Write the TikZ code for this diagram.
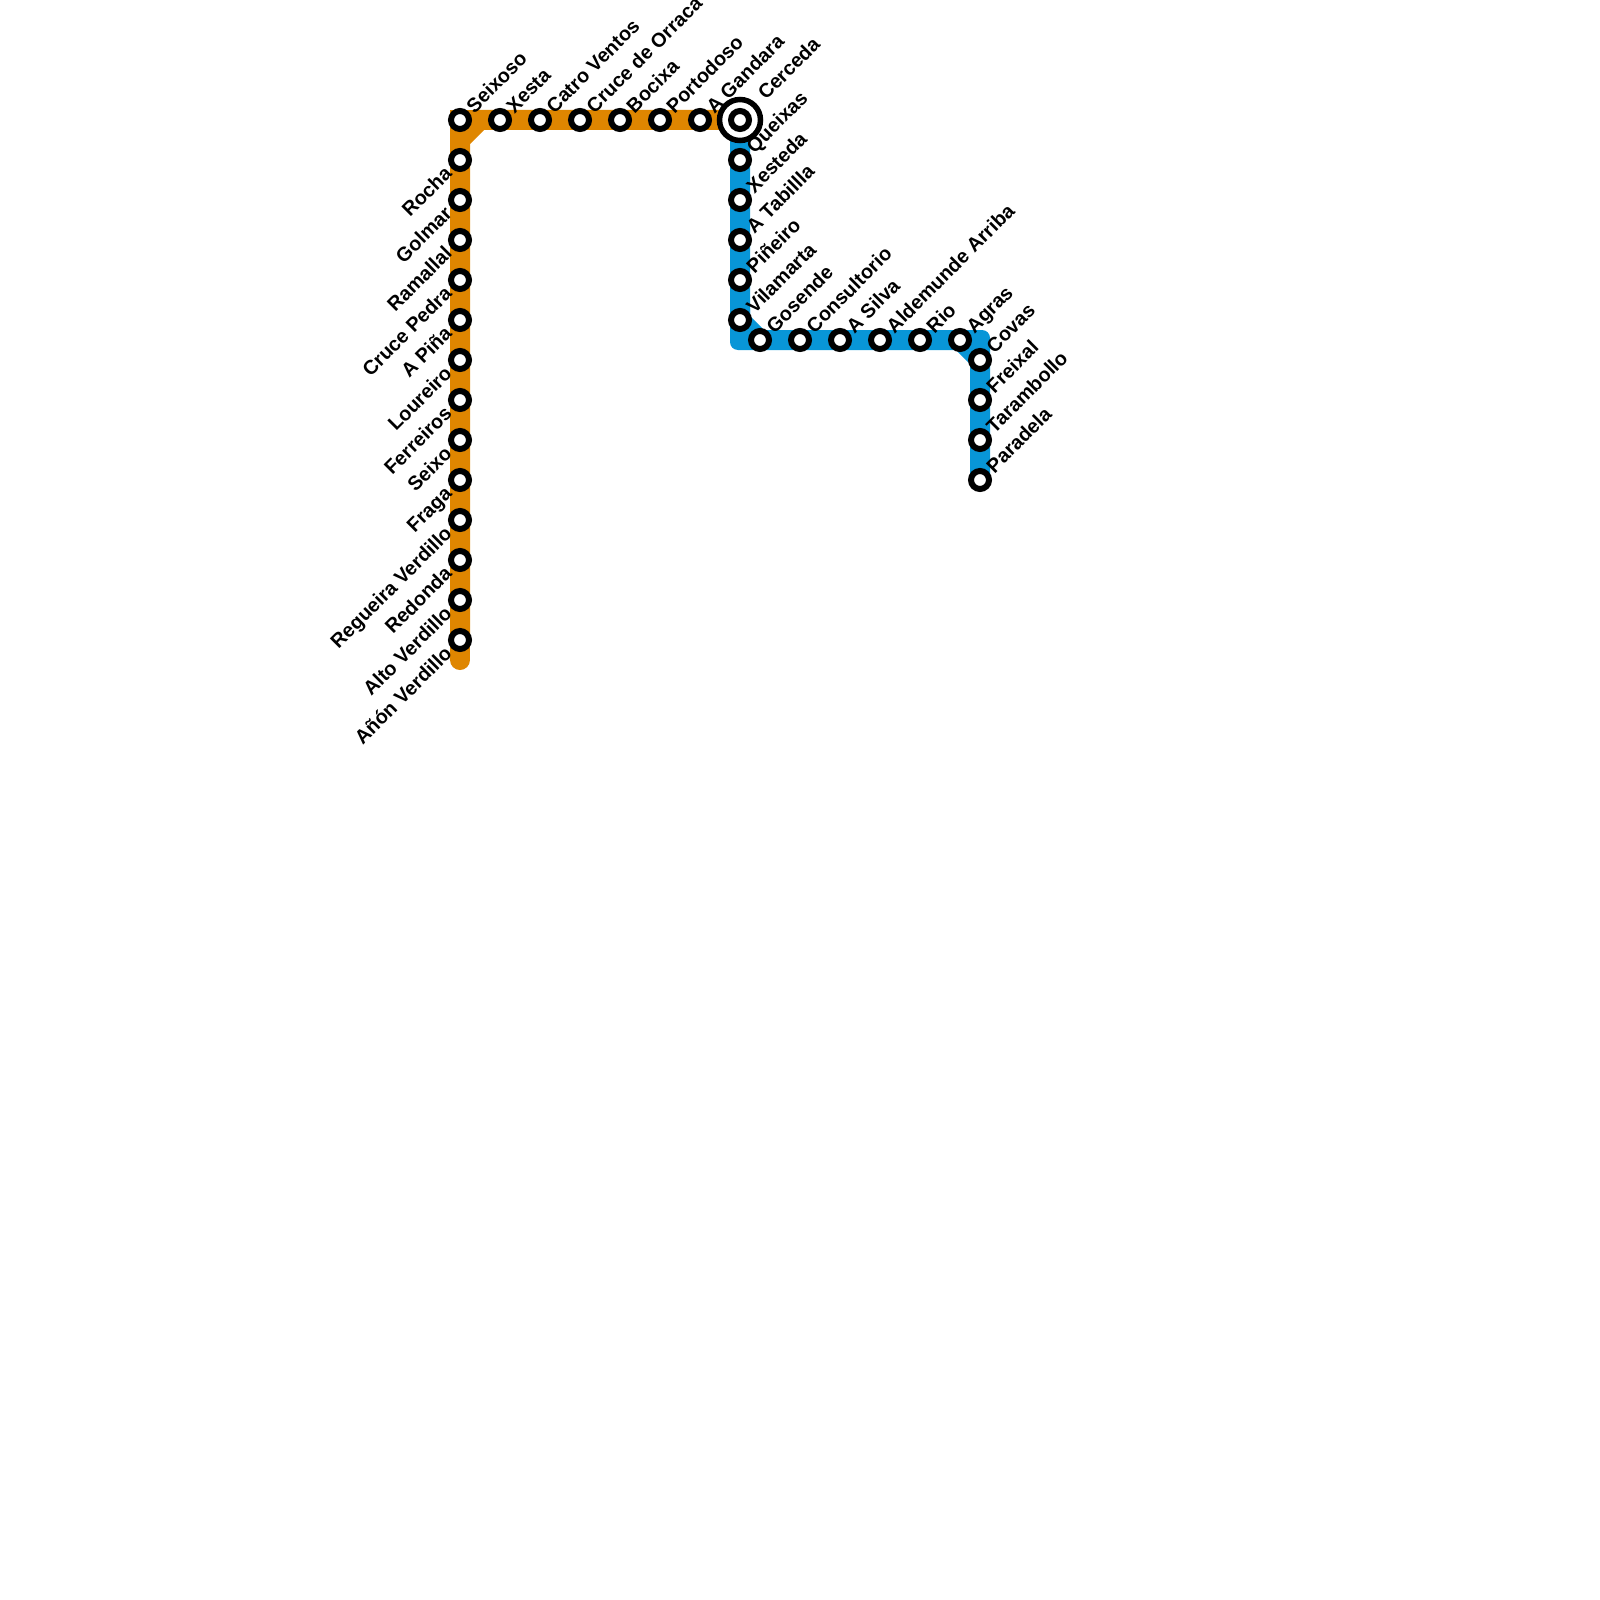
\documentclass[tikz,border=0pt]{standalone}
\usepackage{fontspec}
\setmainfont{Liberation Sans}
\definecolor{lineorange}{HTML}{DF8600}
\definecolor{lineblue}{HTML}{0896D7}
\tikzset{
  stop/.style={circle,draw=black,fill=white,line width=6pt,minimum size=18pt,inner sep=0pt,outer sep=0pt},
  hubring/.style={circle,draw=black,fill=white,line width=5.5pt,minimum size=41pt,inner sep=0pt,outer sep=0pt},
  orangeline/.style={draw=lineorange,line width=20pt},
  blueline/.style={draw=lineblue,line width=20pt},
  lab/.style={font=\fontsize{19.8}{20}\bfseries\selectfont,text=black,inner sep=0pt,outer sep=0pt,rotate=45},
  labR/.style={lab,anchor=base west},
  labL/.style={lab,anchor=base east}
}
\begin{document}
\begin{tikzpicture}[x=1pt,y=-1pt]
\useasboundingbox (0,0) rectangle (1600,1600);
% named positions
\foreach \n/\x/\y in {o1/460/120,o2/500/120,o3/540/120,o4/580/120,o5/620/120,o6/660/120,o7/700/120,
  h/740/120,b1/740/160,b2/740/200,b3/740/240,b4/740/280,b5/740/320,
  b6/760/340,b7/800/340,b8/840/340,b9/880/340,b10/920/340,b11/960/340,
  b12/980/360,b13/980/400,b14/980/440,b15/980/480,
  l1/460/160,l2/460/200,l3/460/240,l4/460/280,l5/460/320,l6/460/360,l7/460/400,l8/460/440,
  l9/460/480,l10/460/520,l11/460/560,l12/460/600,l13/460/640}
  {\coordinate (p\n) at (\x,\y);}
\coordinate (oend) at (460,660);
\coordinate (obend) at (460,140);
\coordinate (oc) at (480,120);
% lines
\fill[lineorange] (450,110) rectangle (480,130);
\fill[lineorange] (450,110) rectangle (470,150);
\fill[lineblue,rounded corners=8pt] (730,300) -- (730,350) -- (770,350) -- (770,330) -- (750,330) -- (750,300) -- cycle;
\fill[lineblue,rounded corners=8pt] (950,330) -- (990,330) -- (990,370) -- (970,370) -- (970,350) -- (950,350) -- cycle;
\path[blueline,line join=miter] (ph) -- (pb5) -- (pb6) -- (pb11) -- (pb12) -- (pb15);
\path[orangeline,line cap=round] (pl13) -- (oend);
\path[orangeline,line join=miter] (pl13) -- (obend) -- (oc) -- (ph);
% stations
\foreach \n in {o1,o2,o3,o4,o5,o6,o7,b1,b2,b3,b4,b5,b6,b7,b8,b9,b10,b11,b12,b13,b14,b15,l1,l2,l3,l4,l5,l6,l7,l8,l9,l10,l11,l12,l13}
  {\node[stop] (s\n) at (p\n) {};}
\node[hubring] (hubouter) at (ph) {};
\node[stop] (hubinner) at (ph) {};
% labels right/up
\foreach \n/\t in {o1/Seixoso,o2/Xesta,o3/Catro Ventos,o4/Cruce de Orraca,o5/Bocixa,o6/Portodoso,o7/A Gandara,
  b1/Queixas,b2/Xesteda,b3/A Tabillla,b4/Piñeiro,b5/Vilamarta,b6/Gosende,b7/Consultorio,b8/A Silva,b9/Aldemunde Arriba,b10/Rio,b11/Agras,
  b12/Covas,b13/Freixal,b14/Tarambollo,b15/Paradela}
  {\node[labR] (t\n) at ([shift={(14.5,-6)}]p\n) {\t};}
\node[labR] (th) at ([shift={(26,-19)}]ph) {Cerceda};
\foreach \n/\t in {l1/Rocha,l2/Golmar,l3/Ramallal,l4/Cruce Pedra,l5/A Piña,l6/Loureiro,l7/Ferreiros,l8/Seixo,
  l9/Fraga,l10/Regueira Verdillo,l11/Redonda,l12/Alto Verdillo,l13/Añón Verdillo}
  {\node[labL] (t\n) at ([shift={(-7,15)}]p\n) {\t};}
\end{tikzpicture}
\end{document}
